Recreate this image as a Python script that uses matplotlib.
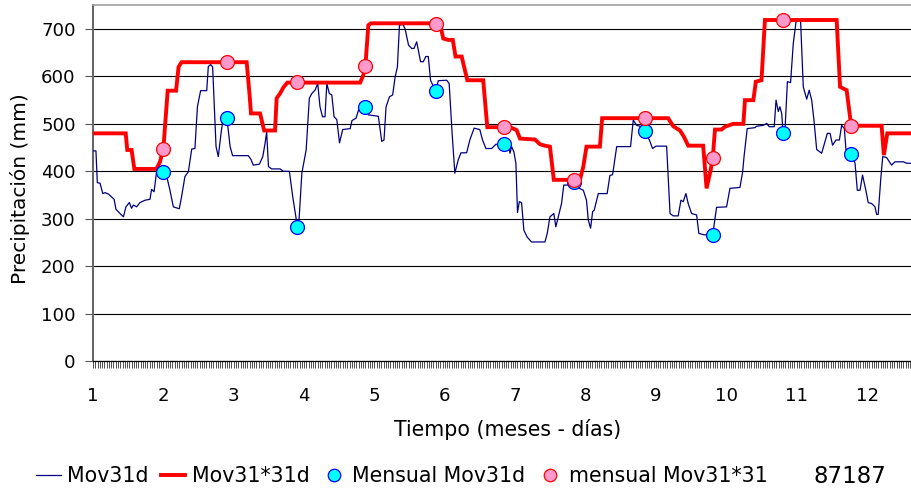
import matplotlib
matplotlib.use("Agg")
import matplotlib.pyplot as plt
from matplotlib.lines import Line2D
import numpy as np

plt.rcParams['font.family'] = ['DejaVu Sans']

# ---- data ----
blue_days = [0, 1.3, 1.9, 3.1, 4.3, 5.3, 6.8, 8.2, 9.3, 10.1, 11.9, 13.4, 14.5, 16, 17, 17.8, 19.2, 20.7, 22.9, 25.1,
             25.8, 26.9, 28, 29.8, 31, 32.5, 33.9, 35.4, 38, 39, 40.5, 42, 43.5, 44.9, 46, 47.4, 50.1, 50.8, 51.8, 52.7,
             54.2, 55.2, 56.4, 57.4, 59, 60.4, 61.5, 68.4, 69.6, 70.6, 73.3, 74.8, 75.8, 76.5, 77.3, 78.7, 82.4, 83.9,
             86.5, 88, 89.5, 90, 90.8, 92, 93.9, 95.3, 96.4, 97.8, 99, 100, 101.1, 102.2, 103, 104.1, 105.2, 106.2,
             107.4, 108.6, 110, 113.3, 114.1, 115.9, 117.4, 120, 121.3, 125.7, 127.2, 128.2, 129.1, 130.6, 132, 133.1,
             134.1, 135, 136.5, 137.5, 139, 140.4, 141.4, 142.6, 144.3, 145.5, 146.6, 147.7, 148.7, 150.6, 151, 152.1,
             155.8, 156.9, 158.2, 159.4, 160.9, 162.1, 164.6, 166, 167.9, 170.4, 171.6, 173.1, 175.6, 177.5, 182.9,
             183.7, 184.4, 185.4, 186.3, 187, 187.8, 188.8, 189.8, 191.3, 193.2, 199.1, 200.1, 201.3, 203, 203.9,
             205.7, 206.4, 207.4, 209.8, 212, 213, 216, 217.4, 218.2, 219.2, 220.1, 220.8, 222.6, 226.5, 227.7, 228.9,
             230.7, 236.8, 238, 239.5, 241.7, 243, 245.1, 246.5, 248, 252.7, 254.2, 255.6, 257.8, 259, 260, 261.2,
             262.2, 263.7, 265.9, 266.9, 269.3, 273, 274.7, 279.1, 280.6, 285, 286.2, 286.8, 288.2, 291.6, 292.3,
             295.3, 296.8, 297.9, 300.1, 300.9, 301.9, 302.6, 303.4, 304, 304.8, 305.9, 307.3, 308.5, 309.7, 311.7,
             312.9, 314.4, 315.5, 316.6, 317.6, 318.8, 320.2, 321, 322, 323.5, 324.7, 325.8, 327.3, 328.8, 329.8,
             331, 331.7, 334, 335.7, 336.7, 337.9, 339, 340.5, 341.5, 343, 344.5, 345.2, 345.9, 347, 347.9, 349.6,
             351.8, 353.3, 357, 358.4, 362]
blue_vals = [443, 443, 376, 375, 353, 355, 352, 346, 341, 320, 311, 304, 325, 334, 322, 329, 325, 334, 339, 341,
             362, 357, 399, 406, 398, 389, 360, 325, 321, 346, 389, 399, 447, 448, 536, 570, 570, 621, 625, 620,
             452, 431, 480, 514, 512, 452, 433, 433, 425, 413, 415, 431, 459, 483, 410, 405, 405, 400,
             400, 346, 300, 283, 300, 396, 445, 554, 564, 571, 585, 536, 515, 515, 585, 564, 561, 515,
             509, 460, 488, 490, 507, 512, 536, 536, 519, 516, 463, 466, 536, 557, 561, 599,
             620, 708, 710, 700, 666, 659, 659, 673, 631, 631, 642, 642, 592, 572, 570, 591,
             592, 585, 480, 396, 424, 439, 439, 466, 491, 488, 466, 448, 448, 457, 457,
             438, 452, 441, 417, 313, 336, 334, 276, 261, 251, 251, 269, 304, 311, 283,
             318, 332, 371, 371, 377, 367, 360, 339, 297, 280, 315, 318, 353, 353, 391, 393,
             452, 452, 508, 497, 494, 485, 466, 448, 453, 453, 311, 306, 306, 339, 336, 353,
             332, 311, 308, 269, 266, 266, 324, 325, 364, 366, 399, 431, 490, 492, 495,
             497, 501, 494, 494, 550, 526, 536, 522, 480, 483, 589, 587, 670, 715, 718,
             578, 552, 571, 550, 508, 446, 441, 438, 455, 480, 480, 455, 466, 466, 497,
             490, 445, 436, 417, 360, 360, 392, 359, 334, 332, 325, 309, 309, 382, 431, 429,
             413, 420, 420, 417, 417]

red_days = [0, 14.4, 15.1, 17, 18.2, 28, 29.5, 31, 32.9, 36.6, 37.7, 39, 67.7, 69, 69.6, 73.6, 74.3, 75.4, 80.2,
            80.9, 82.4, 83.9, 85.6, 117.7, 119.1, 120, 121.3, 122.4, 152.8, 154.3, 156.5, 158.5, 159.7, 162.4,
            164.9, 171.9, 173.7, 183.7, 186.6, 188.1, 194.7, 196.9, 199.1, 201.3, 203, 214.5, 216, 217.4, 223.3,
            224.3, 253.4, 255.6, 258.6, 260.3, 262.2, 268.8, 270.3, 272.1, 273, 274, 276.9, 278.4, 282, 286.5,
            287.2, 290.9, 292, 294.5, 296, 327.6, 329.1, 332, 334, 347.4, 348.4, 349.9, 362]
red_vals = [480, 480, 445, 445, 405, 405, 420, 448, 570, 570, 620, 630, 630, 560, 522, 522, 508, 486, 486,
            554, 564, 577, 587, 587, 603, 623, 708, 712, 712, 680, 677, 677, 642, 642,
            592, 592, 493, 493, 487, 469, 467, 457, 454, 452, 382, 382, 410, 452, 452,
            512, 512, 495, 486, 473, 454, 454, 364, 403, 427, 488, 488, 494, 500, 500,
            550, 550, 589, 592, 719, 719, 578, 571, 496, 496, 434, 480, 480]

month_end_days = [31, 59, 90, 120, 151, 181, 212, 243, 273, 304, 334]
mensual_mov31d = [398, 512, 283, 536, 570, 457, 377, 485, 266, 480, 436]
mensual_mov31x31 = [448, 630, 588, 623, 711, 493, 381, 512, 427, 719, 496]

month_labels = [str(m) for m in range(1, 13)]
month_ticks = [31 * i for i in range(12)]

# ---- figure ----
W, H = 912, 490
fig = plt.figure(figsize=(W / 100, H / 100), dpi=100)
ax = fig.add_axes([93 / W, 1 - 361 / H, (912 - 93) / W, (361 - 5.3) / H])

ax.plot(blue_days, blue_vals, color='#000080', lw=0.9, zorder=3)
ax.plot(red_days, red_vals, color='#FF0000', lw=2.8, zorder=4, solid_joinstyle='miter')
ax.plot(month_end_days, mensual_mov31d, 'o', ls='none', ms=10, mfc='#00FFFF', mec='#0000FF', mew=0.9, zorder=5)
ax.plot(month_end_days, mensual_mov31x31, 'o', ls='none', ms=10, mfc='#FF99CC', mec='#FF0000', mew=0.9, zorder=6)

ax.set_xlim(0, (912 - 93) / 2.27)
ax.set_ylim(0, 750)
ax.set_yticks(range(0, 800, 100))
ax.yaxis.grid(True, color='black', lw=0.8)
ax.set_axisbelow(True)

ax.set_xticks(month_ticks)
ax.set_xticklabels(month_labels)
ax.set_xticks(np.arange(0, 361, 1), minor=True)
ax.tick_params(axis='x', which='both', direction='out', length=5, width=0.6, color='#333333')
ax.tick_params(axis='x', which='major', pad=14, labelsize=13.1)
ax.tick_params(axis='y', direction='out', length=6, width=0.8, color='#555555', pad=6.5, labelsize=13.1)

ax.spines['right'].set_visible(False)
ax.spines['left'].set_color('#666666')
ax.spines['left'].set_linewidth(1.5)
ax.spines['top'].set_color('#A0A0A0')
ax.spines['top'].set_linewidth(1.2)
ax.spines['bottom'].set_color('black')
ax.spines['bottom'].set_linewidth(0.9)

fig.text(20 / W, 1 - 189 / H, 'Precipitación (mm)', rotation=90, ha='center', va='center', fontsize=14.5)
fig.text(508 / W, 1 - 429 / H, 'Tiempo (meses - días)', ha='center', va='center', fontsize=14.8)

handles = [
    Line2D([], [], color='#000080', lw=0.9),
    Line2D([], [], color='#FF0000', lw=2.8),
    Line2D([], [], marker='o', ls='none', ms=9, mfc='#00FFFF', mec='#0000FF', mew=0.9),
    Line2D([], [], marker='o', ls='none', ms=9, mfc='#FF99CC', mec='#FF0000', mew=0.9),
]
labels = ['Mov31d', 'Mov31*31d', 'Mensual Mov31d', 'mensual Mov31*31']
fig.legend(handles, labels, loc='center left', bbox_to_anchor=(36 / W, 1 - 476 / H), ncol=4,
           frameon=False, fontsize=14.8, handlelength=1.2, handletextpad=0.3, columnspacing=0.6,
           borderaxespad=0, borderpad=0)
fig.text(850 / W, 1 - 476 / H, '87187', ha='center', va='center', fontsize=16.5)

fig.savefig('out.png', dpi=100)
